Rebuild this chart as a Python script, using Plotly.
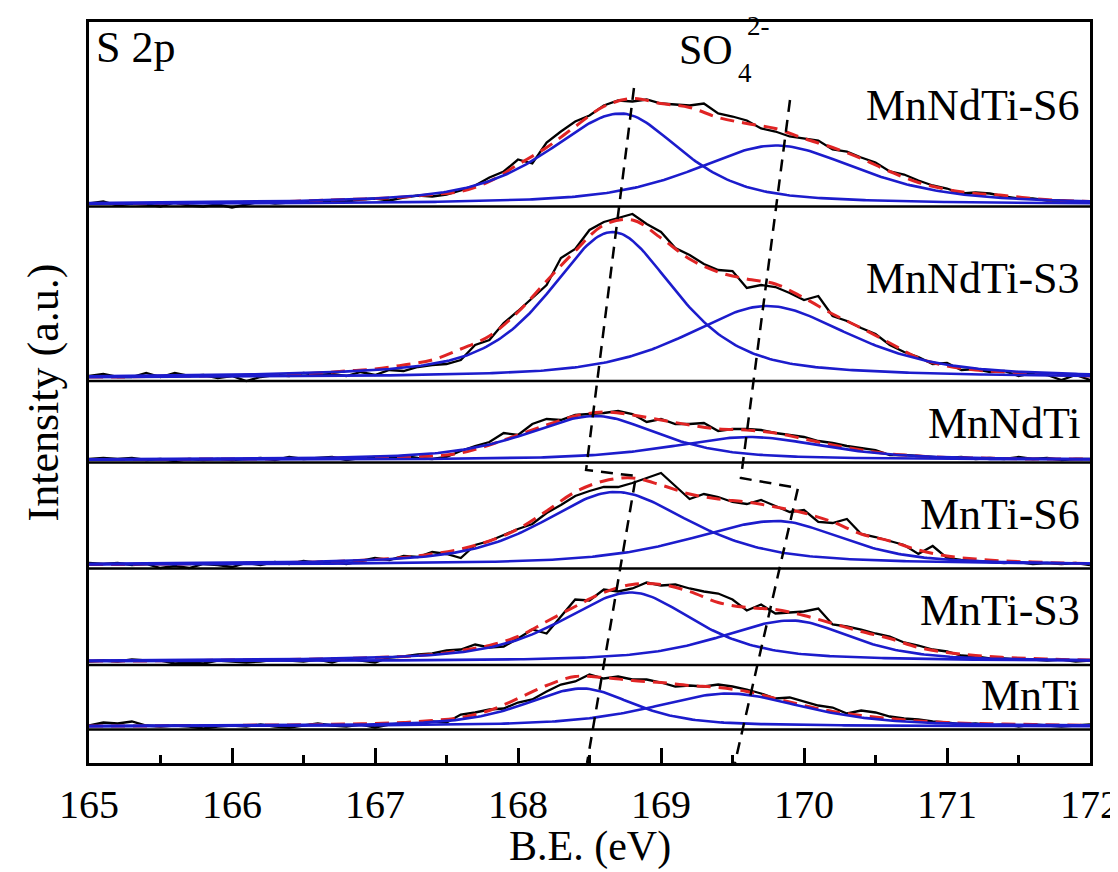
import numpy as np
import plotly.graph_objects as go

# ---------------- data ----------------
samples = ["MnTi", "MnTi-S3", "MnTi-S6", "MnNdTi", "MnNdTi-S3", "MnNdTi-S6"]

# fitted components (binding energy centre eV, height a.u., low-BE width, high-BE width)
p1_center = [168.45, 168.79, 168.68, 168.54, 168.66, 168.72]
p1_height = [38, 69, 73, 44, 146, 91]
p1_wlow = [0.95, 1.15, 1.20, 1.15, 1.05, 1.20]
p1_whigh = [0.85, 1.05, 1.25, 1.05, 1.05, 1.00]
p2_center = [169.47, 169.91, 169.81, 169.62, 169.74, 169.80]
p2_height = [33, 41, 44, 23, 72, 59]
p2_wlow = [1.25, 1.20, 1.45, 1.30, 1.35, 1.35]
p2_whigh = [1.25, 1.00, 1.10, 1.25, 1.40, 1.40]

# raw spectra, 165.0 ... 172.0 eV step 0.1 (intensity above each baseline)
raw_MnTi = [1, 4, 3, 5, 1, 0, 1, 0, -2, 0, 1, 0, 2, 0, -1, 1, 3, 1, 0, 2,
            -1, 2, 3, 2, 5, 4, 12, 14, 17, 18, 24, 27, 35, 42, 45, 52, 48, 50, 47, 47,
            44, 40, 41, 40, 42, 40, 37, 33, 28, 29, 25, 21, 19, 13, 16, 14, 10, 8, 7, 5,
            4, 2, 3, 1, 2, 0, 2, 1, 0, 1, 2]
raw_MnTi_S3 = [0, 1, 0, 2, 1, 1, -2, -1, -2, 1, 0, -1, 0, 2, 1, 0, 2, -1, 3, 1,
               -1, 4, 5, 7, 8, 11, 12, 17, 14, 15, 23, 32, 28, 45, 62, 61, 72, 70, 73, 79,
               76, 77, 73, 70, 68, 62, 51, 57, 48, 49, 50, 53, 37, 35, 32, 28, 25, 19, 16, 12,
               10, 6, 5, 3, 3, 2, 2, 1, 2, 0, 1]
raw_MnTi_S6 = [2, 1, 2, 0, 1, -3, -1, -3, 1, 0, -2, 2, 0, 3, 1, 4, 2, 3, 1, 4,
               7, 5, 9, 8, 13, 11, 7, 20, 24, 30, 36, 41, 52, 60, 69, 74, 78, 78, 82, 87,
               92, 79, 66, 71, 68, 63, 61, 65, 59, 53, 55, 43, 42, 46, 31, 28, 24, 20, 11, 19,
               7, 5, 4, 3, 2, 3, 1, 2, 1, 2, 0]
raw_MnNdTi = [1, 2, 1, 2, 0, 1, -1, 1, 0, 1, 0, 1, 2, 0, 3, 1, 2, 3, 0, 2,
              3, 2, 4, 2, 1, 3, 9, 14, 18, 27, 25, 36, 41, 40, 45, 46, 47, 49, 46, 38,
              41, 36, 36, 37, 29, 31, 31, 30, 27, 25, 23, 19, 17, 14, 12, 10, 5, 5, 4, 3,
              2, 3, 1, 2, 1, 3, 1, 2, 0, 1, 1]
raw_MnNdTi_S3 = [2, 4, 1, 1, 5, 1, 5, 2, 3, 0, 2, -3, 1, 3, 2, 5, 3, 4, 2, 6,
                 3, 8, 7, 11, 13, 14, 18, 33, 38, 55, 67, 80, 93, 120, 129, 148, 156, 160, 164, 154,
                 146, 130, 123, 114, 108, 107, 90, 93, 91, 85, 78, 82, 62, 57, 50, 44, 33, 26, 21, 14,
                 15, 8, 9, 6, 7, 2, 5, 3, -2, 3, -2]
raw_MnNdTi_S6 = [1, 3, -1, 1, 0, -2, 2, -1, -2, 0, -3, 0, 3, 1, 2, 3, 2, 4, 3, 5,
                 6, 4, 7, 9, 8, 10, 14, 19, 27, 33, 45, 41, 62, 73, 83, 89, 99, 104, 103, 105,
                 101, 100, 99, 101, 91, 88, 84, 76, 73, 68, 66, 64, 55, 53, 47, 42, 33, 30, 24, 19,
                 16, 11, 12, 11, 8, 6, 6, 4, 4, 2, 3]

# fitted envelope, 165.0 ... 172.0 eV step 0.2
fit_MnTi = [0.5, 0.5, 0.5, 1, 1, 1, 1.5, 1.5, 2, 2.5, 3, 4, 6, 9, 16, 28, 41, 50,
            49, 46, 44, 41, 39, 35, 28, 21, 15, 11, 8, 5.5, 4, 3, 2.5, 2, 1.5, 1]
fit_MnTi_S3 = [0.5, 0.5, 0.5, 1, 1, 1.5, 1.5, 2, 2.5, 3, 4, 5, 7, 11, 16, 25, 40, 55,
               69, 77, 77, 70, 59, 54, 52, 46, 38, 30, 23, 14, 9, 6, 4, 3, 2, 1.5]
fit_MnTi_S6 = [0.5, 0.5, 1, 1, 1.5, 1.5, 2, 2.5, 3, 4, 5.5, 7.5, 11, 16, 24, 36, 54, 73,
               84, 87, 80, 71, 66, 63, 58, 52, 43, 31, 24, 15, 9, 6, 4, 3, 2, 1.5]
fit_MnNdTi = [0.5, 0.5, 0.5, 0.5, 1, 1, 1, 1.5, 1.5, 2, 2.5, 3, 4, 7, 15, 25, 35, 44,
              48, 45, 40, 35, 31, 30, 27, 21, 15, 10, 6, 4, 2.5, 2, 1.5, 1, 1, 1]
fit_MnNdTi_S3 = [1, 1, 1.5, 2, 2, 2.5, 3, 4, 5, 7, 9, 13, 18, 29, 42, 66, 97, 127,
                 153, 158, 140, 119, 106, 99, 94, 80, 64, 50, 35, 20, 12, 8, 6, 4, 3, 2]
fit_MnNdTi_S6 = [1, 1, 1, 1.5, 2, 2, 2.5, 3, 4, 5, 6, 7.5, 10, 13, 23, 40, 57, 78,
                 98, 106, 101, 97, 87, 81, 76, 66, 57, 46, 33, 22, 15, 11, 9, 6, 4, 3]

raw_all = [raw_MnTi, raw_MnTi_S3, raw_MnTi_S6, raw_MnNdTi, raw_MnNdTi_S3, raw_MnNdTi_S6]
fit_all = [fit_MnTi, fit_MnTi_S3, fit_MnTi_S6, fit_MnNdTi, fit_MnNdTi_S3, fit_MnNdTi_S6]

# SO4(2-) guide lines: (eV, height on the shared stacked axis)
guide_left_x = [168.811, 168.476, 168.825, 168.483]
guide_left_y = [675, 293, 287, 0]
guide_right_x = [169.902, 169.559, 169.958, 169.517]
guide_right_y = [663, 285, 275, 0]

x_ticks = [165, 166, 167, 168, 169, 170, 171, 172]

# ---------------- layout of the stack ----------------
zero_levels = [36.5, 101.5, 198, 303, 385, 558.5]
axis_levels = [33.5, 98, 194.5, 300.5, 382, 556.5]
label_levels = [68, 153, 249, 340, 485, 658]

BLACK = "#000000"
BLUE = "#1c1ccc"
RED = "#e02424"
FONT = "Liberation Serif"

e_raw = np.round(np.linspace(165.0, 172.0, 71), 2)
e_fit = np.round(np.linspace(165.0, 172.0, 36), 2)
e_comp = np.linspace(165.0, 172.0, 351)


def gl_peak(x, c, h, wl, wr, eta=0.6):
    w = np.where(x < c, wl, wr)
    u = (x - c) / w
    return h * (eta / (1 + 4 * u ** 2) + (1 - eta) * np.exp(-4 * np.log(2) * u ** 2))


fig = go.Figure()

for i in range(len(samples)):
    fig.add_trace(go.Scatter(x=[165, 172], y=[axis_levels[i]] * 2, mode="lines",
                             line=dict(color=BLACK, width=2.5), hoverinfo="skip", showlegend=False))

for i in range(len(samples)):
    z = zero_levels[i]
    fig.add_trace(go.Scatter(x=e_raw, y=np.array(raw_all[i]) + z, mode="lines",
                             line=dict(color=BLACK, width=2.3), name=samples[i] + " data",
                             showlegend=False))
    fig.add_trace(go.Scatter(x=e_fit, y=np.array(fit_all[i]) + z, mode="lines",
                             line=dict(color=RED, width=3, dash="14px,8px", shape="spline"),
                             name=samples[i] + " fit", showlegend=False))
    c1 = gl_peak(e_comp, p1_center[i], p1_height[i], p1_wlow[i], p1_whigh[i])
    c2 = gl_peak(e_comp, p2_center[i], p2_height[i], p2_wlow[i], p2_whigh[i])
    for comp in (c1, c2):
        fig.add_trace(go.Scatter(x=e_comp, y=comp + z, mode="lines",
                                 line=dict(color=BLUE, width=2.6), showlegend=False))

for gx, gy in ((guide_left_x, guide_left_y), (guide_right_x, guide_right_y)):
    fig.add_trace(go.Scatter(x=gx, y=gy, mode="lines",
                             line=dict(color=BLACK, width=2.5, dash="12px,8px"),
                             showlegend=False, hoverinfo="skip"))


def txt(text, size, **kw):
    d = dict(text=text, showarrow=False, font=dict(family=FONT, size=size, color=BLACK))
    d.update(kw)
    return d


annotations = []
for i, s in enumerate(samples):
    annotations.append(txt(s, 44, x=1, xref="paper", xanchor="right", xshift=-8,
                           y=label_levels[i], yref="y", yanchor="middle"))
annotations.append(txt("S 2p", 44, x=0, xref="paper", xanchor="left", xshift=5,
                       y=716, yref="y", yanchor="middle"))
# SO4 2- label (sulfate), composed of main text + subscript + superscript
annotations.append(txt("SO", 42, x=169.11, xref="x", xanchor="left",
                       y=713, yref="y", yanchor="middle"))
annotations.append(txt("4", 27, x=169.525, xref="x", xanchor="left",
                       y=690, yref="y", yanchor="middle"))
annotations.append(txt("2-", 27, x=169.585, xref="x", xanchor="left",
                       y=737, yref="y", yanchor="middle"))
annotations.append(txt("Intensity (a.u.)", 44, x=0, xref="paper", xanchor="center", xshift=-46,
                       y=0.5, yref="paper", yanchor="middle", textangle=-90))
annotations.append(txt("B.E. (eV)", 42, x=0.5, xref="paper", xanchor="center",
                       y=0, yref="paper", yanchor="middle", yshift=-83))

fig.update_layout(
    width=1118, height=872,
    margin=dict(l=81, r=36, t=14, b=117, autoexpand=False),
    paper_bgcolor="white", plot_bgcolor="white",
    showlegend=False,
    annotations=annotations,
    xaxis=dict(range=[165, 172], tickvals=x_ticks, ticktext=[str(t) for t in x_ticks],
               ticks="inside", ticklen=15, tickwidth=2.5, tickcolor=BLACK,
               minor=dict(dtick=0.5, tick0=165, ticks="inside", ticklen=8, tickwidth=2.5, tickcolor=BLACK),
               showline=True, linecolor=BLACK, linewidth=2.5, mirror=True,
               showgrid=False, zeroline=False, ticklabelstandoff=4,
               tickfont=dict(family=FONT, size=40, color=BLACK)),
    yaxis=dict(range=[0, 741], showticklabels=False, ticks="",
               showline=True, linecolor=BLACK, linewidth=2.5, mirror=True,
               showgrid=False, zeroline=False),
)

fig.write_html("out.html")
